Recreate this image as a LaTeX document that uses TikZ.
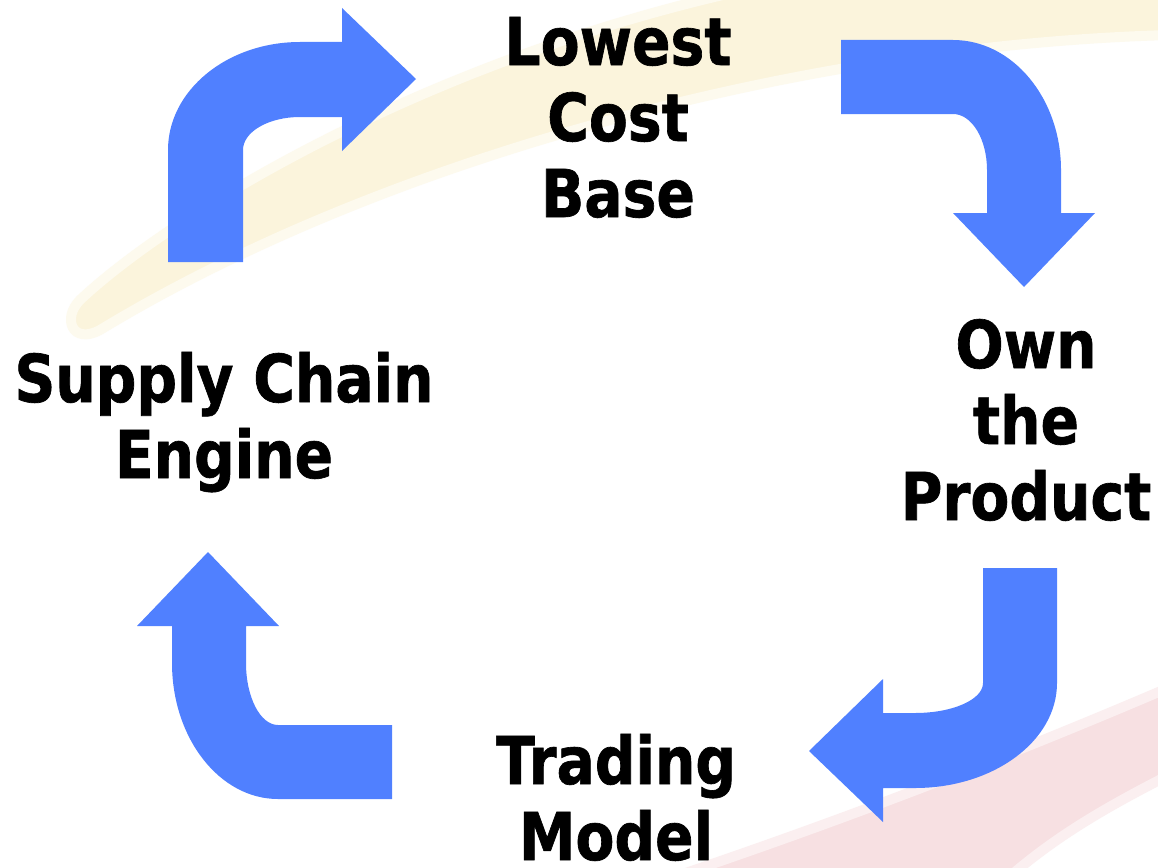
\documentclass[tikz,border=0pt]{standalone}
\usepackage{fontspec}
\newfontfamily\lblfont[FakeStretch=0.86,FakeBold=1]{DejaVu Sans Bold}
\definecolor{arrowblue}{RGB}{80,128,255}
\definecolor{swooshY}{RGB}{251,244,220}
\definecolor{swooshYsoft}{RGB}{253,250,238}
\definecolor{swooshR}{RGB}{247,224,226}
\definecolor{swooshRsoft}{RGB}{251,239,240}
\tikzset{
  bentarrow/.style={fill=arrowblue, draw=none},
  lbl/.style={font=\lblfont\fontsize{66}{76}\selectfont, align=center, inner sep=0pt, text=black, anchor=base},
  bandY/.style={fill=swooshY, draw=swooshYsoft, line width=10pt, line join=round},
  bandR/.style={fill=swooshR, draw=swooshRsoft, line width=10pt, line join=round}
}
\begin{document}
\begin{tikzpicture}[x=1pt,y=-1pt]
\useasboundingbox (0,0) rectangle (1158,867);
\fill[white] (0,0) rectangle (1158,867);
\begin{scope}
\clip (0,0) rectangle (1158,867);
\draw[bandY] (80,300) .. controls (170,215) and (450,40) .. (820,-25) -- (1170,-25) -- (1170,35) .. controls (800,45) and (380,160) .. (100,330) .. controls (72,345) and (62,318) .. (80,300) -- cycle;
\draw[bandR] (650,885) .. controls (830,825) and (1000,760) .. (1175,685) -- (1175,772) .. controls (1100,810) and (1050,840) .. (1000,885) -- cycle;
\end{scope}
% arrows
\fill[bentarrow] (168,262) -- (168,150) .. controls (168,90.4) and (227.1,42) .. (300,42) -- (342,42) -- (342,8) -- (416,79) -- (342,151) -- (342,117) -- (300,117) .. controls (268.5,117) and (243,131.8) .. (243,150) -- (243,262) -- cycle;
\fill[bentarrow] (841,40) -- (953,40) .. controls (1012.6,40) and (1061,98.2) .. (1061,170) -- (1061,213) -- (1095,213) -- (1024,287) -- (953,213) -- (987,213) -- (987,170) .. controls (987,139.1) and (971.8,114) .. (953,114) -- (841,114) -- cycle;
\fill[bentarrow] (983,568) -- (1057,568) -- (1057,683) .. controls (1057,741) and (993.4,788) .. (915,788) -- (883,788) -- (883,822) -- (809,751) -- (883,679) -- (883,713) -- (915,713) .. controls (952.6,713) and (983,699.6) .. (983,683) -- cycle;
\fill[bentarrow] (208,552) -- (279,626) -- (246,626) -- (246,663) .. controls (246,697.2) and (260.3,725) .. (278,725) -- (392,725) -- (392,799) -- (278,799) .. controls (219.5,799) and (172,738.1) .. (172,663) -- (172,626) -- (137,626) -- cycle;
% labels (anchor = baseline of the last line)
\node[lbl] (lcb) at (618,217) {Lowest\\Cost\\Base};
\node[lbl] (sce) at (224,478) {Supply Chain\\Engine};
\node[lbl] (otp) at (1026,520) {Own\\the\\Product};
\node[lbl] (tm) at (616,860) {Trading\\Model};
\end{tikzpicture}
\end{document}
